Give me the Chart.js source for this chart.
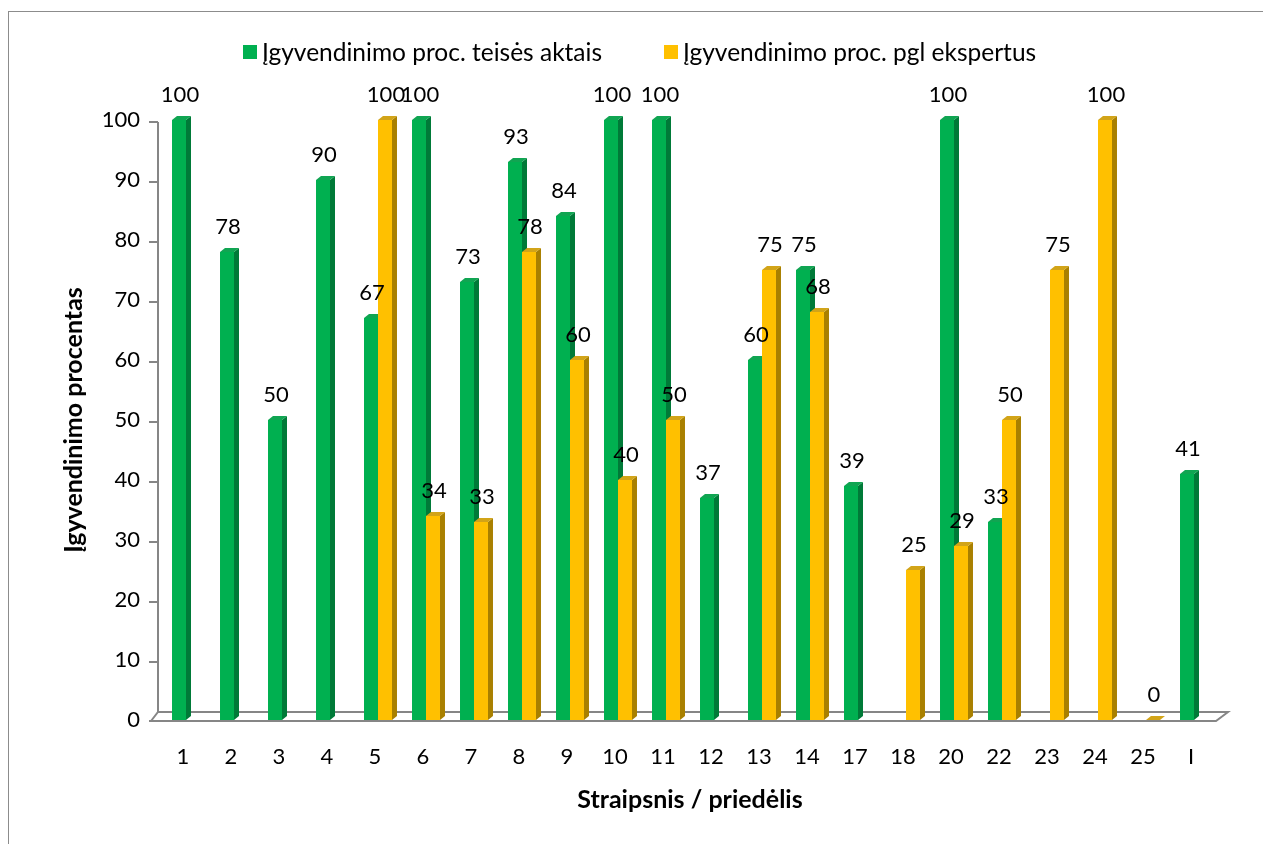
<!DOCTYPE html>
<html>
<head>
<meta charset="utf-8">
<script src="https://cdn.jsdelivr.net/npm/chart.js@4.4.1/dist/chart.umd.min.js"></script>
<style>
  html, body { margin: 0; padding: 0; background: #fff; overflow: hidden; }
  .frame { position: absolute; left: 8px; top: 11px; width: 1300px; height: 900px; border: 1px solid #8c8c8c; }
  .wrap { position: absolute; left: 0; top: 0; width: 1263px; height: 844px; }
</style>
</head>
<body>
<div class="frame"></div>
<div class="wrap"><canvas id="chart"></canvas></div>
<script>
const categories = ["1", "2", "3", "4", "5", "6", "7", "8", "9", "10", "11", "12", "13", "14", "17", "18", "20", "22", "23", "24", "25", "I"];
const teisesAktai = [100, 78, 50, 90, 67, 100, 73, 93, 84, 100, 100, 37, 60, 75, 39, null, 100, 33, null, null, null, 41];
const ekspertai = [null, null, null, null, 100, 34, 33, 78, 60, 40, 50, null, 75, 68, null, 25, 29, 50, 75, 100, 0, null];
const yTicks = [0, 10, 20, 30, 40, 50, 60, 70, 80, 90, 100];
const seriesNames = ["Įgyvendinimo proc. teisės aktais", "Įgyvendinimo proc. pgl ekspertus"];

const FONT = "Lato, 'Open Sans', sans-serif";
const AXIS = "#868686";
const colors = [
  { front: "#00b050", side: "#007a38", top: "#10a552" },
  { front: "#ffc000", side: "#a98000", top: "#d2a418" },
];
const DX = 5, DY = -4;

// side + top faces go first so the neighbouring bar's front covers them
const bars3d = {
  id: "bars3d",
  beforeDatasetsDraw(chart) {
    const { ctx, chartArea, scales } = chart;
    const y = scales.y;
    ctx.save();
    // wall + floor
    ctx.strokeStyle = AXIS;
    ctx.lineWidth = 2;
    const wallX = chartArea.left - 4;
    const front = chartArea.bottom + 1;
    const back = chartArea.bottom - 8;
    ctx.beginPath();
    ctx.moveTo(wallX, y.getPixelForValue(100) + 2);
    ctx.lineTo(wallX, back);
    ctx.moveTo(wallX - 7, front);
    ctx.lineTo(wallX, back);
    ctx.lineTo(chartArea.right + 10, back);
    ctx.lineTo(chartArea.right - 2, front);
    ctx.lineTo(wallX - 7, front);
    yTicks.forEach((v) => {
      const py = v === 0 ? front : Math.round(y.getPixelForValue(v)) + 2;
      ctx.moveTo(wallX - 9, py);
      ctx.lineTo(v === 0 ? wallX - 7 : wallX, py);
    });
    ctx.stroke();

    chart.data.datasets.forEach((ds, i) => {
      const meta = chart.getDatasetMeta(i);
      const c = colors[i];
      meta.data.forEach((bar, j) => {
        if (ds.data[j] === null) return;
        const left = bar.x - bar.width / 2;
        const right = bar.x + bar.width / 2;
        ctx.fillStyle = c.side;
        ctx.beginPath();
        ctx.moveTo(right, bar.y);
        ctx.lineTo(right + DX, bar.y + DY);
        ctx.lineTo(right + DX, bar.base + DY);
        ctx.lineTo(right, bar.base);
        ctx.closePath();
        ctx.fill();
        ctx.fillStyle = c.top;
        ctx.beginPath();
        ctx.moveTo(left, bar.y);
        ctx.lineTo(left + DX, bar.y + DY);
        ctx.lineTo(right + DX, bar.y + DY);
        ctx.lineTo(right, bar.y);
        ctx.closePath();
        ctx.fill();
      });
    });
    ctx.restore();
  },
  afterDatasetsDraw(chart) {
    const { ctx } = chart;
    ctx.save();
    ctx.font = "22px " + FONT;
    ctx.fillStyle = "#000";
    ctx.textAlign = "center";
    ctx.textBaseline = "alphabetic";
    chart.data.datasets.forEach((ds, i) => {
      chart.getDatasetMeta(i).data.forEach((bar, j) => {
        const v = ds.data[j];
        if (v === null) return;
        ctx.fillText(String(v), bar.x + 1, bar.y - 18);
      });
    });
    ctx.restore();
  },
  afterDraw(chart) {
    const { ctx } = chart;
    const spots = [243, 664];
    ctx.save();
    ctx.font = "24.5px " + FONT;
    ctx.textBaseline = "middle";
    ctx.textAlign = "left";
    chart.data.datasets.forEach((ds, i) => {
      ctx.fillStyle = colors[i].front;
      ctx.fillRect(spots[i], 45, 14, 14);
      ctx.fillStyle = "#000";
      ctx.fillText(ds.label, spots[i] + 19, 53);
    });
    ctx.restore();
  },
};

new Chart(document.getElementById("chart"), {
  type: "bar",
  data: {
    labels: categories,
    datasets: [
      { label: seriesNames[0], data: teisesAktai, backgroundColor: colors[0].front },
      { label: seriesNames[1], data: ekspertai, backgroundColor: colors[1].front },
    ],
  },
  options: {
    responsive: true,
    maintainAspectRatio: false,
    animation: false,
    layout: { padding: { top: 120, right: 45, bottom: 0, left: 0 } },
    datasets: { bar: { categoryPercentage: 0.583, barPercentage: 1, skipNull: false } },
    plugins: { legend: { display: false }, tooltip: { enabled: false } },
    scales: {
      x: {
        grid: { display: false, drawTicks: false },
        border: { display: false },
        ticks: { color: "#000", font: { family: FONT, size: 22 }, padding: 24, labelOffset: -3, maxRotation: 0, autoSkip: false },
        title: { display: true, text: "Straipsnis / priedėlis", color: "#000", font: { family: FONT, size: 25, weight: "bold" }, padding: { top: 0, bottom: 29 } },
        afterFit(scale) { scale.height = 124; },
      },
      y: {
        min: 0,
        max: 100,
        grid: { display: false, drawTicks: false },
        border: { display: false },
        afterBuildTicks(scale) { scale.ticks = yTicks.map((v) => ({ value: v })); },
        ticks: { color: "#000", font: { family: FONT, size: 22 }, padding: 22 },
        title: { display: true, text: "Įgyvendinimo procentas", color: "#000", font: { family: FONT, size: 25, weight: "bold" }, padding: { top: 59, bottom: 0 } },
        afterFit(scale) { scale.width = 162; },
      },
    },
  },
  plugins: [bars3d],
});
</script>
</body>
</html>
